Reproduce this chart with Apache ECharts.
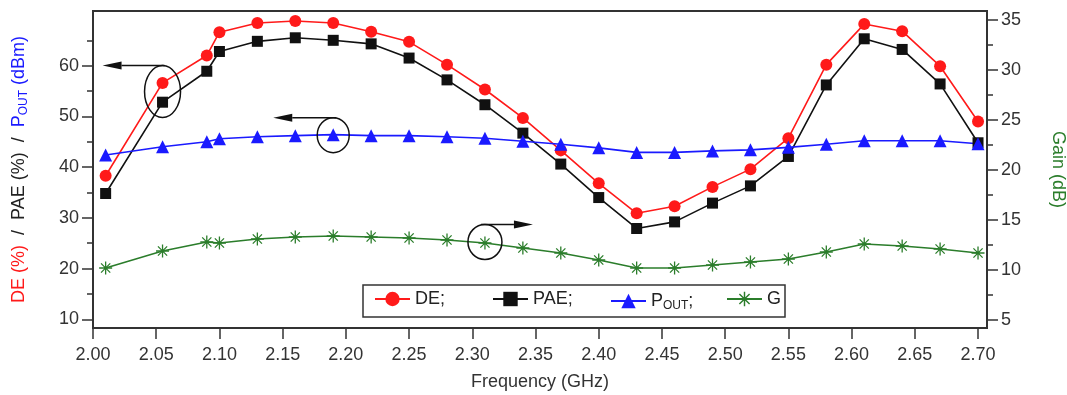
<!DOCTYPE html>
<html>
<head>
<meta charset="utf-8">
<script src="https://cdn.jsdelivr.net/npm/echarts@6/dist/echarts.min.js"></script>
<style>
  html, body { margin: 0; padding: 0; background: #fff; }
  #chart { width: 1067px; height: 395px; }
</style>
</head>
<body>
<div id="chart"></div>
<script>
// Measured frequency points (GHz)
const freq = [2.01, 2.055, 2.09, 2.10, 2.13, 2.16, 2.19, 2.22, 2.25, 2.28, 2.31, 2.34,
              2.37, 2.40, 2.43, 2.46, 2.49, 2.52, 2.55, 2.58, 2.61, 2.64, 2.67, 2.70];
// Drain efficiency (%)
const de   = [38.3, 56.6, 62.0, 66.6, 68.4, 68.8, 68.4, 66.7, 64.7, 60.2, 55.3, 49.7,
              43.3, 36.8, 30.9, 32.3, 36.1, 39.6, 45.7, 60.2, 68.2, 66.8, 59.9, 49.0];
// Power-added efficiency (%)
const pae  = [34.8, 52.8, 58.9, 62.8, 64.8, 65.5, 65.0, 64.3, 61.5, 57.2, 52.3, 46.7,
              40.6, 34.0, 27.9, 29.2, 32.9, 36.3, 42.1, 56.2, 65.3, 63.2, 56.4, 44.8];
// Output power (dBm)
const pout = [42.4, 44.0, 45.0, 45.6, 46.0, 46.2, 46.4, 46.2, 46.2, 46.0, 45.7, 45.1,
              44.5, 43.8, 42.9, 42.9, 43.2, 43.4, 43.9, 44.5, 45.2, 45.2, 45.2, 44.6];
// Gain (dB)
const gain = [10.2, 11.9, 12.8, 12.7, 13.1, 13.3, 13.4, 13.3, 13.2, 13.0, 12.7, 12.2,
              11.7, 11.0, 10.2, 10.2, 10.5, 10.8, 11.1, 11.8, 12.6, 12.4, 12.1, 11.7];

// Tick values
const xTicks     = [2.00, 2.05, 2.10, 2.15, 2.20, 2.25, 2.30, 2.35, 2.40, 2.45, 2.50, 2.55, 2.60, 2.65, 2.70];
const leftTicks  = [10, 20, 30, 40, 50, 60];
const leftMinor  = [15, 25, 35, 45, 55, 65];
const rightTicks = [5, 10, 15, 20, 25, 30, 35];
const rightMinor = [7.5, 12.5, 17.5, 22.5, 27.5, 32.5];

const FONT = 'Liberation Sans, Arial, sans-serif';
const AXIS = '#333';
const RED = '#ff1a1a', BLACK = '#111', BLUE = '#1a1aff', GREEN = '#2b7d2b';

// Eight-armed asterisk marker (filled thin bars, same winding)
const STAR = 'path://M-0.6 -6L0.6 -6L0.6 6L-0.6 6Z M-6 -0.6L6 -0.6L6 0.6L-6 0.6Z ' +
  'M-3.82 -4.66L4.66 3.82L3.82 4.66L-4.66 -3.82Z M-4.66 3.82L3.82 -4.66L4.66 -3.82L-3.82 4.66Z';

const pair = (ys) => freq.map((f, i) => [f, ys[i]]);

const chart = echarts.init(document.getElementById('chart'), null, { renderer: 'canvas' });

const legendBase = {
  orient: 'horizontal', top: 290, padding: 0, itemGap: 0,
  itemWidth: 35, itemHeight: 18, selectedMode: false, z: 10,
  textStyle: { fontSize: 18, color: '#222', fontFamily: FONT,
    rich: {
      n: { fontSize: 18, lineHeight: 22, color: '#222', fontFamily: FONT },
      s: { fontSize: 12, lineHeight: 12, padding: [10, 0, 0, 0], color: '#222', fontFamily: FONT }
    } }
};

const minorAxis = (pos, min, max, vals) => ({
  type: 'value', position: pos, min, max,
  axisLine: { show: false }, axisLabel: { show: false }, splitLine: { show: false },
  axisTick: { show: true, customValues: vals, length: 6, lineStyle: { color: AXIS, width: 1.5 } }
});

const option = {
  animation: false,
  backgroundColor: '#fff',
  textStyle: { fontFamily: FONT },
  grid: { left: 93, right: 80, top: 11, bottom: 67, show: true, containLabel: false,
          outerBoundsMode: 'none',
          borderColor: AXIS, borderWidth: 2, backgroundColor: 'transparent' },
  xAxis: {
    type: 'value', min: 2.0, max: 2.7071, position: 'bottom',
    axisLine: { lineStyle: { color: AXIS, width: 2 } },
    axisTick: { customValues: xTicks, length: 11, lineStyle: { color: AXIS, width: 1.5 } },
    axisLabel: { customValues: xTicks, formatter: v => v.toFixed(2), margin: 18,
                 fontSize: 18, color: '#333', fontFamily: FONT },
    splitLine: { show: false },
    name: 'Frequency (GHz)', nameLocation: 'middle', nameGap: 45,
    nameTextStyle: { fontSize: 18, color: '#333', fontFamily: FONT }
  },
  yAxis: [
    {
      type: 'value', position: 'left', min: 8.28, max: 70.78,
      axisLine: { show: true, lineStyle: { color: AXIS, width: 2 } },
      axisTick: { show: true, customValues: leftTicks, length: 11, lineStyle: { color: AXIS, width: 1.5 } },
      axisLabel: { customValues: leftTicks, margin: 14, fontSize: 18, color: '#333', fontFamily: FONT },
      splitLine: { show: false },
      name: '{r|DE (%)}{k|  /  PAE (%)  /  }{b|P}{bs|OUT}{b| (dBm)}',
      nameLocation: 'middle', nameRotate: 90, nameGap: 63,
      nameTextStyle: {
        rich: {
          r:  { color: RED,   fontSize: 18, lineHeight: 22, fontFamily: FONT },
          k:  { color: '#222', fontSize: 18, lineHeight: 22, fontFamily: FONT },
          b:  { color: BLUE,  fontSize: 18, lineHeight: 22, fontFamily: FONT },
          bs: { color: BLUE,  fontSize: 12, lineHeight: 12, padding: [10, 0, 0, 0], fontFamily: FONT }
        }
      }
    },
    {
      type: 'value', position: 'right', min: 4.2, max: 35.9,
      axisLine: { show: true, lineStyle: { color: AXIS, width: 2 } },
      axisTick: { show: true, customValues: rightTicks, length: 11, lineStyle: { color: AXIS, width: 1.5 } },
      axisLabel: { customValues: rightTicks, margin: 14, fontSize: 18, color: '#333', fontFamily: FONT },
      splitLine: { show: false },
      name: 'Gain (dB)', nameLocation: 'middle', nameRotate: -90, nameGap: 62,
      nameTextStyle: { color: GREEN, fontSize: 18, fontFamily: FONT }
    },
    minorAxis('left', 8.28, 70.78, leftMinor),
    minorAxis('right', 4.2, 35.9, rightMinor)
  ],
  legend: [
    Object.assign({}, legendBase, { left: 374, data: ['DE'],   formatter: () => 'DE;' }),
    Object.assign({}, legendBase, { left: 492, data: ['PAE'],  formatter: () => 'PAE;' }),
    Object.assign({}, legendBase, { left: 610, data: ['POUT'], formatter: () => '{n|P}{s|OUT}{n|;}' }),
    Object.assign({}, legendBase, { left: 726, data: ['G'],    formatter: () => 'G' })
  ],
  series: [
    { name: 'DE', type: 'line', yAxisIndex: 0, data: pair(de),
      symbol: 'circle', symbolSize: 12,
      lineStyle: { color: RED, width: 1.6 }, itemStyle: { color: RED } },
    { name: 'PAE', type: 'line', yAxisIndex: 0, data: pair(pae),
      symbol: 'rect', symbolSize: 11,
      lineStyle: { color: BLACK, width: 1.6 }, itemStyle: { color: BLACK } },
    { name: 'POUT', type: 'line', yAxisIndex: 0, data: pair(pout),
      symbol: 'triangle', symbolSize: 13,
      lineStyle: { color: BLUE, width: 1.6 }, itemStyle: { color: BLUE } },
    { name: 'G', type: 'line', yAxisIndex: 1, data: pair(gain),
      symbol: STAR, symbolSize: 13,
      lineStyle: { color: GREEN, width: 1.6 }, itemStyle: { color: GREEN } }
  ]
};

chart.setOption(option);

// Callout rings with arrows pointing to the axis each group belongs to
const callouts = [
  { x: 2.055, y: 54.9, axis: 0, rx: 18, ry: 26, from: 2,  to: -60 },
  { x: 2.19,  y: 46.3, axis: 0, rx: 16, ry: 17.5, from: 3, to: -60 },
  { x: 2.31,  y: 12.8, axis: 1, rx: 17, ry: 17.5, from: -4, to: 48 }
];

const graphics = [{
  type: 'rect', z: 5,
  shape: { x: 363, y: 285, width: 422, height: 32 },
  style: { fill: '#fff', stroke: AXIS, lineWidth: 1.5 }
}];

callouts.forEach(c => {
  const p = chart.convertToPixel({ xAxisIndex: 0, yAxisIndex: c.axis }, [c.x, c.y]);
  const cx = p[0], cy = p[1];
  const ay = cy - c.ry;
  const tipX = cx + c.to;
  const dir = c.to < 0 ? 1 : -1;   // direction from tip back toward the ring
  const head = 19, half = 4;
  graphics.push({
    type: 'ellipse', z: 20,
    shape: { cx, cy, rx: c.rx, ry: c.ry },
    style: { fill: 'none', stroke: BLACK, lineWidth: 1.5 }
  });
  graphics.push({
    type: 'line', z: 20,
    shape: { x1: cx + c.from, y1: ay, x2: tipX + dir * head, y2: ay },
    style: { stroke: BLACK, lineWidth: 1.5 }
  });
  graphics.push({
    type: 'polygon', z: 20,
    shape: { points: [[tipX, ay], [tipX + dir * head, ay - half], [tipX + dir * head, ay + half]] },
    style: { fill: BLACK }
  });
});

chart.setOption({ graphic: graphics });
</script>
</body>
</html>
